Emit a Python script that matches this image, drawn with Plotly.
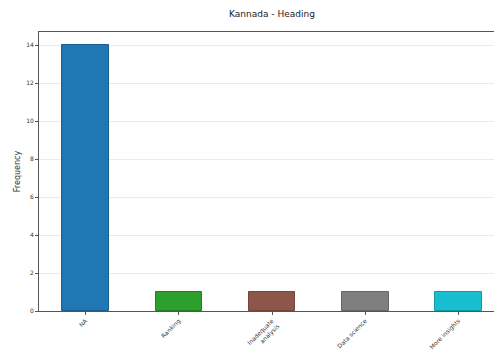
import plotly.graph_objects as go

categories = ["NA", "Ranking", "Inadequate<br>analysis", "Data science", "More insights"]
frequency = [14, 1, 1, 1, 1]
bar_colors = ["#1f77b4", "#2ca02c", "#8c564b", "#7f7f7f", "#17becf"]
edge_colors = ["#1a5f8f", "#237f23", "#70453c", "#666666", "#139aa6"]
y_ticks = [0, 2, 4, 6, 8, 10, 12, 14]

fig = go.Figure(go.Bar(
    x=list(range(len(categories))),
    y=frequency,
    width=0.5,
    marker=dict(color=bar_colors, line=dict(color=edge_colors, width=1)),
))

# the page body has an 8px default margin, so margins are reduced by 8px
fig.update_layout(
    width=502, height=351,
    margin=dict(l=31, r=5, t=24, b=48, autoexpand=False),
    paper_bgcolor="white", plot_bgcolor="white",
    font=dict(family="DejaVu Sans", color="#333333", size=6),
    title=dict(text="Kannada - Heading", x=264 / 502, xref="container", y=1 - 6 / 351, yref="container",
               xanchor="center", yanchor="middle", font=dict(size=9, color="#222222"),
               automargin=False),
    showlegend=False,
    bargap=0,
)
fig.update_xaxes(
    range=[-0.5, 4.5], automargin=False,
    tickmode="array", tickvals=list(range(len(categories))), ticktext=categories,
    tickangle=-45, ticks="outside", ticklen=3, tickcolor="#555555",
    showline=True, linecolor="#555555", linewidth=1, mirror=True,
    showgrid=False, zeroline=False, tickfont=dict(size=6),
)
fig.update_yaxes(
    range=[0, 14.7], automargin=False,
    tickmode="array", tickvals=y_ticks,
    ticks="outside", ticklen=3, tickcolor="#555555",
    showline=True, linecolor="#555555", linewidth=1, mirror=False,
    showgrid=True, gridcolor="#ebebeb", gridwidth=1, zeroline=False,
    title=dict(text="Frequency", font=dict(size=8), standoff=4),
    tickfont=dict(size=6),
)

fig.write_html("out.html")
